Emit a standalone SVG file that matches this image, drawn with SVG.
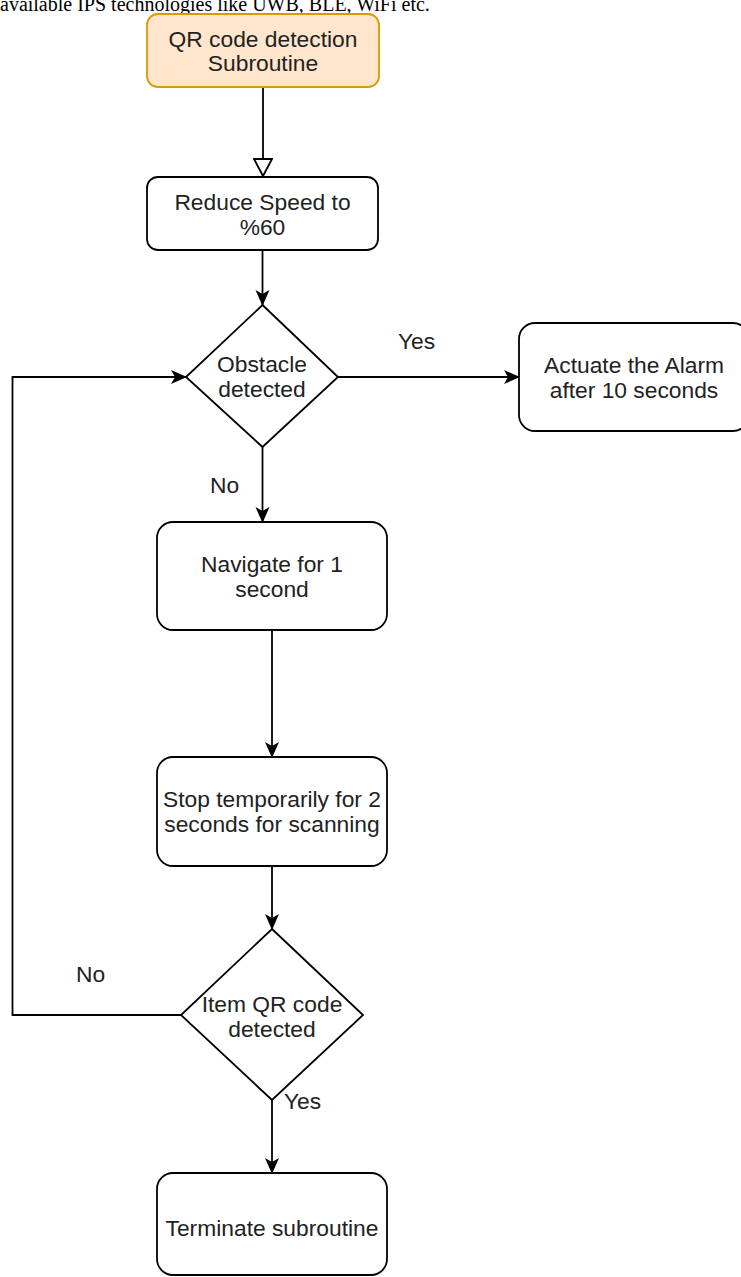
<svg xmlns="http://www.w3.org/2000/svg" width="741" height="1277" viewBox="0 0 741 1277">
<style>
.box{fill:#ffffff;stroke:#000000;stroke-width:1.8}
.start{fill:#ffe6cc;stroke:#d79b00;stroke-width:1.8}
.t{font-family:"Liberation Sans",Arial,sans-serif;font-size:22.8px;fill:#222222;text-anchor:middle}
.lbl{font-family:"Liberation Sans",Arial,sans-serif;font-size:22.8px;fill:#222222}
.edge{fill:none;stroke:#000000;stroke-width:1.8}
.top{font-family:"Liberation Serif","Times New Roman",serif;font-size:20px;fill:#000000}
</style>
<defs>
<marker id="arr" markerUnits="userSpaceOnUse" markerWidth="16" markerHeight="16" viewBox="0 0 16 16" refX="15" refY="8" orient="auto">
<path d="M0,1 L16,8 L0,15 L4,8 Z" fill="#000000"/>
</marker>
<marker id="hollow" markerUnits="userSpaceOnUse" markerWidth="20" markerHeight="20" viewBox="0 0 20 20" refX="18" refY="10" orient="auto">
<path d="M1,1 L18,10 L1,19 Z" fill="#ffffff" stroke="#000000" stroke-width="1.8"/>
</marker>
</defs>
<text class="top" x="0" y="10.5">available IPS technologies like UWB, BLE, WiFi etc.</text>
<g id="connectors">
<path class="edge" d="M263,87 L263,176" marker-end="url(#hollow)"/>
<path class="edge" d="M262.5,250 L262.5,305" marker-end="url(#arr)"/>
<path class="edge" d="M338,377 L519,377" marker-end="url(#arr)"/>
<path class="edge" d="M262.5,447 L262.5,522" marker-end="url(#arr)"/>
<path class="edge" d="M272,630 L272,757" marker-end="url(#arr)"/>
<path class="edge" d="M272,866 L272,929" marker-end="url(#arr)"/>
<path class="edge" d="M181,1015 L12.5,1015 L12.5,377 L186,377" marker-end="url(#arr)"/>
<path class="edge" d="M272,1100 L272,1173" marker-end="url(#arr)"/>
<text class="lbl" x="398" y="349">Yes</text>
<text class="lbl" x="210" y="493">No</text>
<text class="lbl" x="76" y="982">No</text>
<text class="lbl" x="284" y="1109">Yes</text>
</g>
<g id="qr">
<rect class="start" x="147" y="14" width="232" height="73" rx="11" ry="11"/>
<text class="t" x="263" y="47">QR code detection</text>
<text class="t" x="263" y="71">Subroutine</text>
</g>
<g id="reduce">
<rect class="box" x="147" y="177" width="231" height="73" rx="11" ry="11"/>
<text class="t" x="262.5" y="209.5">Reduce Speed to</text>
<text class="t" x="262.5" y="234.5">%60</text>
</g>
<g id="obstacle">
<polygon class="box" points="262.5,305 338,377 262.5,447 186,377"/>
<text class="t" x="262" y="372">Obstacle</text>
<text class="t" x="262" y="397">detected</text>
</g>
<g id="alarm">
<rect class="box" x="519" y="323" width="230" height="108" rx="16" ry="16"/>
<text class="t" x="634" y="373">Actuate the Alarm</text>
<text class="t" x="634" y="397.5">after 10 seconds</text>
</g>
<g id="navigate">
<rect class="box" x="157" y="522" width="230" height="108" rx="16" ry="16"/>
<text class="t" x="272" y="572">Navigate for 1</text>
<text class="t" x="272" y="597">second</text>
</g>
<g id="stop">
<rect class="box" x="157" y="757" width="230" height="109" rx="16" ry="16"/>
<text class="t" x="272" y="807">Stop temporarily for 2</text>
<text class="t" x="272" y="832">seconds for scanning</text>
</g>
<g id="itemqr">
<polygon class="box" points="272,929 363,1015 272,1100 181,1015"/>
<text class="t" x="272" y="1012">Item QR code</text>
<text class="t" x="272" y="1037">detected</text>
</g>
<g id="terminate">
<rect class="box" x="157" y="1173" width="230" height="102" rx="16" ry="16"/>
<text class="t" x="272" y="1236">Terminate subroutine</text>
</g>
</svg>
